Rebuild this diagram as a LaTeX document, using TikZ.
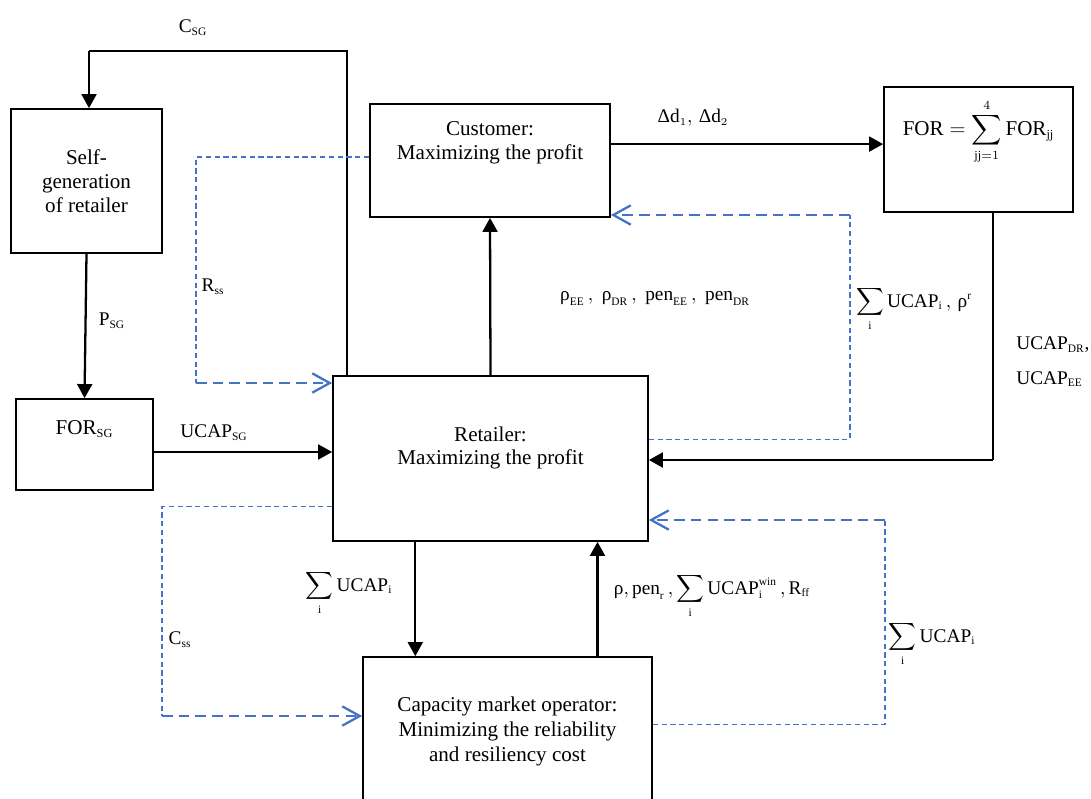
\documentclass[tikz,border=0pt]{standalone}
\usepackage{amsmath}
\usepackage{fontspec}
\setmainfont{Liberation Serif}
\DeclareMathSizes{11}{11}{6.5}{5}
\DeclareMathSizes{12}{12}{7}{5}
\usepackage{tikz}
\usetikzlibrary{positioning,arrows.meta}
\definecolor{flowblue}{RGB}{68,114,196}
\newcommand{\urho}{\text{ρ}}
\newcommand{\uDelta}{\text{Δ}}

\begin{document}
\begin{tikzpicture}[
  x=0.02cm, y=-0.02cm,
  font=\fontsize{11}{13.5}\selectfont,
  box/.style={draw, line width=1pt, inner sep=0pt},
  lab/.style={inner sep=0pt, align=center},
  boxtext/.style={lab, font=\fontsize{12}{13.6}\selectfont},
  flow/.style={-{Triangle[length=8pt,width=8.5pt]}, line width=1.3pt},
  wire/.style={line width=0.6pt},
  fb/.style={flowblue, dash pattern=on 3pt off 2pt, line width=0.6pt},
  fbarrow/.style={flowblue, dash pattern=on 6pt off 3.5pt, line width=1.3pt,
    -{Straight Barb[length=10pt,width=11pt]}}
]
  \useasboundingbox (0,0) rectangle (1091,798);

  % Boxes
  \node[box, boxtext, minimum width=3.02cm, minimum height=2.88cm] (selfgen) at (86.5,181)
    {Self-\\generation\\of retailer};
  \node[box, minimum width=2.74cm, minimum height=1.82cm,
    label={[boxtext, below=12.5pt]north:{$\mathrm{FOR}_{\mathrm{SG}}$}}] (forsg) at (84.5,444.5) {};
  \node[box, minimum width=4.8cm, minimum height=2.26cm,
    label={[boxtext, below=10.2pt]north:{Customer:\\Maximizing the profit}}] (cust) at (490,160.5) {};
  \node[box, minimum width=3.78cm, minimum height=2.5cm,
    label={[boxtext, below=7.2pt]north:{$\mathrm{FOR}=\displaystyle\sum_{\mathrm{jj}=1}^{4}\mathrm{FOR}_{\mathrm{jj}}$}}] (fortot) at (978.5,149.5) {};
  \node[box, minimum width=6.3cm, minimum height=3.3cm,
    label={[boxtext, below=29pt]north:{Retailer:\\Maximizing the profit}}] (ret) at (490.5,458.5) {};
  \node[box, minimum width=5.78cm, minimum height=3.4cm,
    label={[boxtext, below=23.2pt, font=\fontsize{12}{14.2}\selectfont]north:{Capacity market operator:\\Minimizing the reliability\\and resiliency cost}}] (cmo) at (507.5,742) {};

  % Corners of the loops
  \coordinate (csgtop) at (347,51);
  \coordinate (csgleft) at (89,51);
  \coordinate (rsscorner) at (196,383);
  \coordinate (ucapcorner) at (850,215);
  \coordinate (forcorner) at (993,460);
  \coordinate (csscorner) at (162,716);
  \coordinate (rightcorner) at (885,520);

  % Black flows
  \draw[wire] (ret.north -| csgtop) -- (csgtop) -- (csgleft);
  \draw[flow] (csgleft) -- (selfgen.north -| csgleft);
  \draw[flow] (selfgen.south) -- (forsg.north);
  \draw[flow] ([yshift=-4.25pt]forsg.east) -- ([yshift=-4.25pt]forsg.east -| ret.west);
  \draw[flow] ([yshift=9.35pt]cust.east) -- ([yshift=9.35pt]cust.east -| fortot.west);
  \draw[flow] (ret.north) -- (cust.south);
  \draw[wire] (fortot.south -| forcorner) -- (forcorner);
  \draw[flow] (forcorner) -- (forcorner -| ret.east);
  \draw[flow] ([xshift=-42.8pt]ret.south) -- ([xshift=-42.8pt]ret.south |- cmo.north);
  \draw[flow] ([xshift=60.9pt]ret.south |- cmo.north) -- ([xshift=60.9pt]ret.south);

  % Blue dashed flows
  \draw[fb] ([yshift=2pt]cust.west) -| (rsscorner);
  \draw[fbarrow] (rsscorner) -- (rsscorner -| ret.west);
  \draw[fb] ([yshift=11pt]ret.east) -| (ucapcorner);
  \draw[fbarrow] (ucapcorner) -- (ucapcorner -| cust.east);
  \draw[fb] ([yshift=-27.5pt]ret.west) -| (csscorner);
  \draw[fbarrow] (csscorner) -- (csscorner -| cmo.west);
  \draw[fb] ([yshift=10.2pt]cmo.east) -| (rightcorner);
  \draw[fbarrow] (rightcorner) -- (rightcorner -| ret.east);

  % Flow labels
  \node[lab] (csg) at (193,28) {$\mathrm{C}_{\mathrm{SG}}$};
  \node[lab] (psg) at (112,321) {$\mathrm{P}_{\mathrm{SG}}$};
  \node[lab] (rss) at (213,287) {$\mathrm{R}_{\mathrm{ss}}$};
  \node[lab] (ucapsg) at (214,433) {$\mathrm{UCAP}_{\mathrm{SG}}$};
  \node[lab] (dd) at (693,118) {$\uDelta\mathrm{d}_{1},\,\uDelta\mathrm{d}_{2}$};
  \node[lab] (prices) at (655,298)
    {$\urho_{\mathrm{EE}}\,,\;\urho_{\mathrm{DR}}\,,\;\mathrm{pen}_{\mathrm{EE}}\,,\;\mathrm{pen}_{\mathrm{DR}}$};
  \node[lab] (sumrho) at (914,309)
    {$\displaystyle\sum_{\mathrm{i}}\mathrm{UCAP}_{\mathrm{i}}\,,\,\urho^{\mathrm{r}}$};
  \node[lab, anchor=west, align=left] (ucapder) at (1016,362)
    {$\mathrm{UCAP}_{\mathrm{DR}}$,\\[6pt]$\mathrm{UCAP}_{\mathrm{EE}}$};
  \node[lab] (sumleft) at (349,593) {$\displaystyle\sum_{\mathrm{i}}\mathrm{UCAP}_{\mathrm{i}}$};
  \node[lab] (sumup) at (712,596)
    {$\urho,\mathrm{pen}_{\mathrm{r}}\,,\displaystyle\sum_{\mathrm{i}}\mathrm{UCAP}_{\mathrm{i}}^{\mathrm{win}}\,,\mathrm{R}_{\mathrm{ff}}$};
  \node[lab] (css) at (180,640) {$\mathrm{C}_{\mathrm{ss}}$};
  \node[lab] (sumright) at (932,644) {$\displaystyle\sum_{\mathrm{i}}\mathrm{UCAP}_{\mathrm{i}}$};
\end{tikzpicture}
\end{document}
